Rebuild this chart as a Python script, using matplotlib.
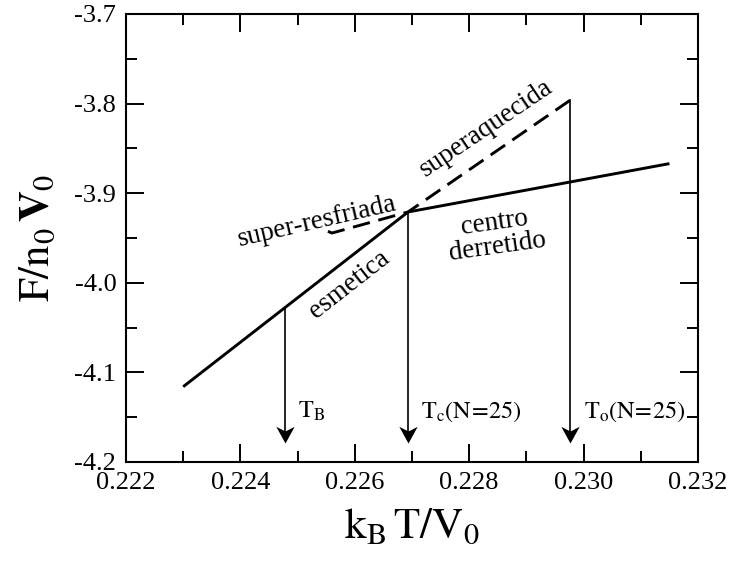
import matplotlib
matplotlib.use("Agg")
import matplotlib.pyplot as plt
from matplotlib.path import Path
from matplotlib.ticker import MultipleLocator, FormatStrFormatter

# Times-like look
plt.rcParams['font.family'] = ['Liberation Serif', 'DejaVu Serif']
plt.rcParams['mathtext.fontset'] = 'stix'
plt.rcParams['axes.unicode_minus'] = False

# smectic branch (solid)
smectic_x = [0.2230, 0.22693]
smectic_y = [-4.116, -3.921]
# melted core branch (solid)
melted_x = [0.22693, 0.2315]
melted_y = [-3.921, -3.867]
# metastable branches (dashed): supercooled + superheated
meta_x = [0.22553, 0.2256, 0.22693, 0.22977]
meta_y = [-3.9425, -3.9445, -3.921, -3.796]

# temperature arrows
arrow_x = [0.22478, 0.22693, 0.22977]
arrow_top = [-4.0277, -3.921, -3.796]
arrow_tip = -4.179
arrow_labels = [r'$\mathrm{T_B}$', r'$\mathrm{T_c(N\!=\!25)}$', r'$\mathrm{T_o(N\!=\!25)}$']
label_x = [0.22501, 0.22716, 0.23001]
label_y = -4.151

# notched arrow head, tip at the origin
head = Path([(0, 0), (-0.55, 1.0), (0, 0.72), (0.55, 1.0), (0, 0)],
            [Path.MOVETO, Path.LINETO, Path.LINETO, Path.LINETO, Path.CLOSEPOLY])

fig = plt.figure(figsize=(7.32, 5.64), dpi=100)
ax = fig.add_axes([0.1721, 0.1809, 0.7815, 0.7943])

ax.plot(smectic_x, smectic_y, color='k', lw=2.1, solid_capstyle='butt')
ax.plot(melted_x, melted_y, color='k', lw=2.1, solid_capstyle='butt')
ax.plot(meta_x, meta_y, color='k', lw=2.1, dashes=(6, 3))

for x0, y0, lab, lx in zip(arrow_x, arrow_top, arrow_labels, label_x):
    ax.plot([x0, x0], [y0, arrow_tip + 0.01], color='k', lw=1.2)
    ax.plot([x0], [arrow_tip], marker=head, ms=24, color='k', mew=0)
    ax.text(lx, label_y, lab, fontsize=17.5, va='baseline', ha='left')

ax.text(0.22534, -3.9321, 'super-resfriada', fontsize=19.5, rotation=13,
        ha='center', va='center', rotation_mode='anchor')
ax.text(0.22829, -3.8272, 'superaquecida', fontsize=19.5, rotation=34,
        ha='center', va='center', rotation_mode='anchor')
ax.text(0.2259, -4.0025, 'esmetica', fontsize=19.5, rotation=38,
        ha='center', va='center', rotation_mode='anchor')
ax.text(0.22847, -3.9467, 'centro\nderretido', fontsize=19.5, rotation=8,
        ha='center', va='center', multialignment='center',
        rotation_mode='anchor', linespacing=0.95)

ax.set_xlim(0.222, 0.232)
ax.set_ylim(-4.2, -3.7)
ax.xaxis.set_major_locator(MultipleLocator(0.002))
ax.xaxis.set_minor_locator(MultipleLocator(0.001))
ax.yaxis.set_major_locator(MultipleLocator(0.1))
ax.yaxis.set_minor_locator(MultipleLocator(0.05))
ax.xaxis.set_major_formatter(FormatStrFormatter('%.3f'))
ax.yaxis.set_major_formatter(FormatStrFormatter('%.1f'))
ax.tick_params(which='both', direction='in', top=True, right=True, width=1.4)
ax.tick_params(which='major', length=13, labelsize=19, pad=7)
ax.tick_params(which='minor', length=8)
for s in ax.spines.values():
    s.set_linewidth(1.5)

ax.set_xlabel(r'$\mathrm{k_B\,T/V_0}$', fontsize=31, labelpad=10)
ax.set_ylabel(r'$\mathrm{F/n_0}\,\mathbf{V}_\mathrm{0}$', fontsize=31, labelpad=12)

fig.savefig('out.png', dpi=100)
